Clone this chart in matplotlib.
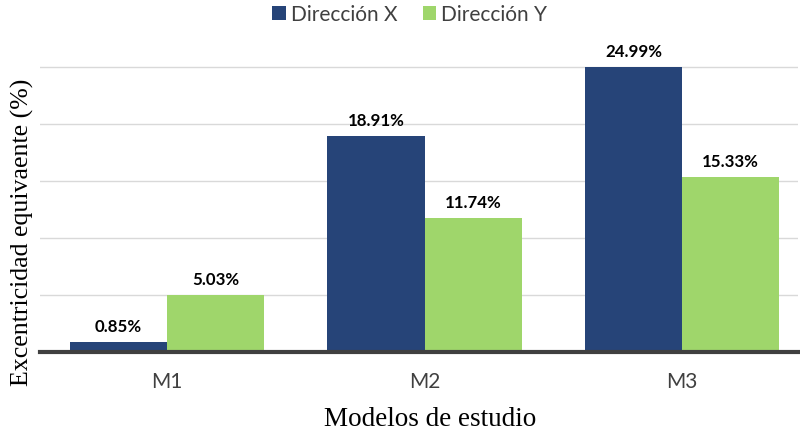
import matplotlib
matplotlib.use("Agg")
import matplotlib.pyplot as plt
import numpy as np

categories = ["M1", "M2", "M3"]
dir_x = [0.85, 18.91, 24.99]
dir_y = [5.03, 11.74, 15.33]
series_names = ["Dirección X", "Dirección Y"]

col_x = "#264478"
col_y = "#9fd66b"

fig = plt.figure(figsize=(8, 4.35), dpi=100)
ax = fig.add_axes([40/800, 1-353/435, 758/800, (353-45)/435])

x = np.arange(len(categories))
w = 0.377
bx = ax.bar(x - w/2, dir_x, w, color=col_x, label=series_names[0], zorder=3)
by = ax.bar(x + w/2, dir_y, w, color=col_y, label=series_names[1], zorder=3)

for bars, vals in ((bx, dir_x), (by, dir_y)):
    for b, v in zip(bars, vals):
        ax.text(b.get_x() + b.get_width()/2, v + 0.7, f"{v:.2f}%",
                ha="center", va="bottom", fontsize=12.2, fontweight="bold",
                family="Lato", color="black")

ax.set_xlim(-0.493, 2.45)
ax.set_ylim(0, 27)
ax.set_yticks([5, 10, 15, 20, 25])
ax.yaxis.grid(True, color="#d9d9d9", linewidth=1, zorder=0)
ax.tick_params(axis="y", left=False, labelleft=False)
ax.tick_params(axis="x", bottom=False, length=0, pad=14)
ax.set_xticks(x)
ax.set_xticklabels(categories, fontsize=15, family="Lato", color="#404040")
for s in ["top", "right", "left"]:
    ax.spines[s].set_visible(False)
ax.spines["bottom"].set_color("#404040")
ax.spines["bottom"].set_linewidth(3)
ax.spines["bottom"].set_zorder(4)

fig.text(22/800, 1-232/435, "Excentricidad equivaente (%)", rotation=90,
         ha="center", va="center", fontsize=18.6, family="Liberation Serif")
fig.text(430/800, 1-420/435, "Modelos de estudio", ha="center", va="center",
         fontsize=19.5, family="Liberation Serif")

leg = fig.legend(handles=[bx, by], labels=series_names, loc="center",
                 bbox_to_anchor=(410/800, 1-15/435), ncol=2, frameon=False,
                 prop={"family": "Lato", "size": 15}, handlelength=0.65,
                 handleheight=0.65, columnspacing=1.2, handletextpad=0.25)
for t in leg.get_texts():
    t.set_color("#404040")

fig.savefig("out.png", dpi=100)
